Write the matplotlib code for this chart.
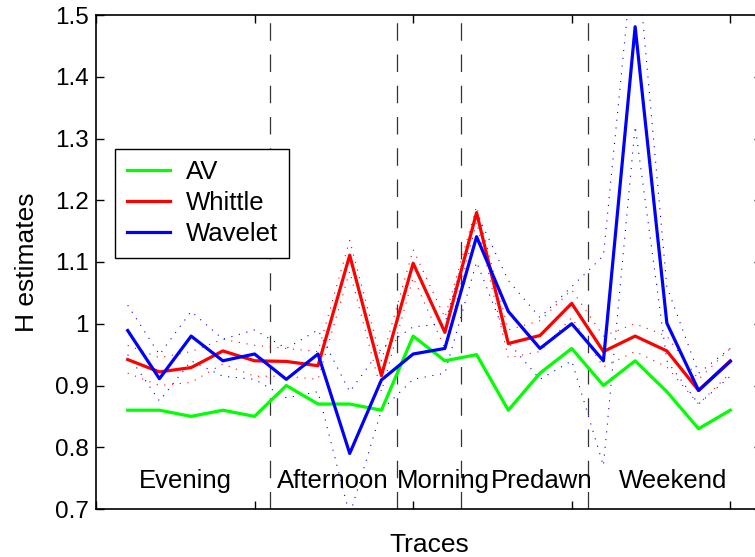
import numpy as np
import matplotlib
matplotlib.use("Agg")
import matplotlib.pyplot as plt

plt.rcParams["font.family"] = ["Liberation Sans", "DejaVu Sans"]

traces = np.arange(1, 21)

av = [0.86, 0.86, 0.85, 0.86, 0.85, 0.90, 0.87, 0.87, 0.86, 0.98,
      0.94, 0.95, 0.86, 0.92, 0.96, 0.90, 0.94, 0.89, 0.83, 0.86]
whittle = [0.942, 0.922, 0.929, 0.956, 0.940, 0.939, 0.932, 1.111, 0.916, 1.098,
           0.986, 1.180, 0.968, 0.981, 1.033, 0.955, 0.980, 0.956, 0.892, 0.940]
wavelet = [0.989, 0.911, 0.980, 0.940, 0.951, 0.910, 0.951, 0.790, 0.909, 0.951,
           0.960, 1.141, 1.020, 0.960, 1.000, 0.940, 1.481, 1.001, 0.892, 0.939]

# confidence bounds (dotted)
whittle_hi = [0.965, 0.945, 0.955, 0.975, 0.965, 0.960, 0.955, 1.135, 0.940, 1.120,
              1.010, 1.190, 0.990, 1.005, 1.055, 0.980, 1.000, 0.980, 0.910, 0.960]
whittle_lo = [0.920, 0.900, 0.905, 0.935, 0.915, 0.915, 0.910, 1.085, 0.890, 1.075,
              0.960, 1.165, 0.945, 0.955, 1.010, 0.930, 0.955, 0.930, 0.870, 0.920]
wavelet_hi = [1.030, 0.950, 1.020, 0.975, 0.990, 0.960, 0.990, 0.890, 0.960, 0.995,
              1.000, 1.180, 1.070, 1.010, 1.060, 1.110, 1.630, 1.060, 0.920, 0.960]
wavelet_lo = [0.950, 0.875, 0.940, 0.915, 0.910, 0.880, 0.890, 0.690, 0.860, 0.910,
              0.920, 1.100, 0.970, 0.910, 0.940, 0.770, 1.320, 0.940, 0.870, 0.915]

periods = ["Evening", "Afternoon", "Morning", "Predawn", "Weekend"]
period_x = [1.34, 5.69, 9.5, 12.44, 16.5]
boundaries = [5.5, 9.5, 11.5, 15.5]

fig = plt.figure(figsize=(7.55, 5.57), dpi=100)
ax = fig.add_axes([96 / 755, 48 / 557, 666 / 755, 494 / 557])

for b in boundaries:
    ax.axvline(b, color="#333333", lw=0.9, linestyle=(0, (14, 11)), zorder=1)

dots = (0, (1, 6))
ax.plot(traces, whittle_hi, color="red", lw=0.8, linestyle=dots)
ax.plot(traces, whittle_lo, color="red", lw=0.8, linestyle=dots)
ax.plot(traces, wavelet_hi, color="blue", lw=0.8, linestyle=dots)
ax.plot(traces, wavelet_lo, color="blue", lw=0.8, linestyle=dots)

ax.plot(traces, av, color="#00ff00", lw=2.3, label="AV")
ax.plot(traces, whittle, color="red", lw=2.3, label="Whittle")
ax.plot(traces, wavelet, color="blue", lw=2.3, label="Wavelet")

for name, x in zip(periods, period_x):
    ax.text(x, 0.734, name, fontsize=18.5, va="baseline", ha="left")

ax.set_xlim(0, 21)
ax.set_ylim(0.7, 1.5)
ax.set_xticks([0, 5, 10, 15, 20])
ax.set_xticklabels([])
ax.set_yticks([0.7, 0.8, 0.9, 1.0, 1.1, 1.2, 1.3, 1.4, 1.5])
ax.set_yticklabels(["0.7", "0.8", "0.9", "1", "1.1", "1.2", "1.3", "1.4", "1.5"])
ax.tick_params(direction="in", length=6, top=True, right=True, labelsize=17.5,
               width=1, pad=5)
for s in ax.spines.values():
    s.set_linewidth(1.2)

ax.set_xlabel("Traces", fontsize=19, labelpad=12)
ax.set_ylabel("H estimates", fontsize=19, labelpad=12)

leg = ax.legend(loc="upper left", bbox_to_anchor=(0.0285, 0.729), fontsize=18.5,
                frameon=True, fancybox=False, edgecolor="black", framealpha=1,
                labelspacing=0.27, handlelength=1.7, handletextpad=0.6,
                borderaxespad=0, borderpad=0.45)
leg.get_frame().set_linewidth(1.0)

fig.savefig("out.png", dpi=100)
